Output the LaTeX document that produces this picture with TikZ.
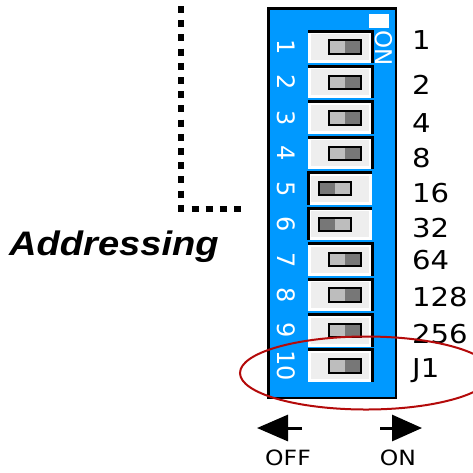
\documentclass[tikz,border=0pt]{standalone}
\usepackage{fontspec}
\usepackage{tikz}
\usetikzlibrary{arrows.meta,positioning}
\setmainfont{DejaVu Sans}
\newfontfamily\widefont[FakeStretch=1.12]{DejaVu Sans}
\newfontfamily\addrfont[FakeStretch=1.12]{Liberation Sans}
\definecolor{dipblue}{RGB}{0,153,255}
\definecolor{ringred}{RGB}{180,10,10}
\definecolor{knoblight}{RGB}{189,189,189}
\definecolor{knobdark}{RGB}{119,119,119}
\definecolor{boxgray}{RGB}{238,238,238}

\tikzset{
  swbox/.style={draw=white, line width=3pt, fill=boxgray, minimum width=61pt, minimum height=29pt, inner sep=0pt},
  knob/.style={fill=knoblight, minimum width=32pt, minimum height=13pt, inner sep=0pt},
  swnum/.style={text=white, rotate=-90, inner sep=0pt, font=\fontsize{24}{24}\selectfont},
  weight/.style={anchor=west, inner sep=0pt, font=\widefont\fontsize{26}{26}\selectfont},
  arrowlbl/.style={inner sep=0pt, font=\widefont\fontsize{21}{21}\selectfont},
}

\begin{document}
\begin{tikzpicture}[x=1pt,y=-1pt]
\useasboundingbox (0,0) rectangle (473,472);

% dip switch body
\node[draw, line width=2.5pt, fill=dipblue, minimum width=127.5pt, minimum height=389.5pt, inner sep=0pt] (dip) at (332,203) {};
\node[fill=white, minimum width=20pt, minimum height=14pt, inner sep=0pt] (onmark) at (379,21) {};
\node[swnum, font=\fontsize{23}{23}\selectfont] (ontxt) at (384,48) {ON};

% switches: number/weight/knob x/dark side/other side/label shift
\foreach \i/\val/\kx/\side/\other/\dy in {1/1/345/east/west/-7, 2/2/345/east/west/2, 3/4/345/east/west/5,
    4/8/345/east/west/5, 5/16/335/west/east/4, 6/32/335/west/east/4, 7/64/345/east/west/0,
    8/128/345/east/west/2, 9/256/345/east/west/4, 10/J1/345/east/west/5}{
  \pgfmathsetmacro\yy{47+35.44*(\i-1)}
  \node[swbox] (sw\i) at (340,\yy) {};
  \draw[line width=3pt] (sw\i.south \side) -- (sw\i.north \side) -- (sw\i.north \other);
  \node[knob] (kn\i) at (\kx,\yy) {};
  \fill[knobdark] (kn\i.north) rectangle (kn\i.south \side);
  \draw[line width=2pt] (kn\i.north west) rectangle (kn\i.south east);
  \node[swnum] (n\i) at (286,\yy) {\i};
  \node[weight] (w\i) at (412,{\yy+\dy}) {\val};
}

% leader to the address switches
\coordinate (leadtop) at (181,6);
\coordinate (leadcorner) at (181,208.5);
\coordinate (leadend) at (241,208.5);
\draw[line width=6pt, dash pattern=on 7pt off 7.2pt] (leadtop) -- (leadcorner) -- (leadend);
\node[anchor=base west, inner sep=0pt, font=\addrfont\bfseries\itshape\fontsize{34}{34}\selectfont] (addr) at (9,255) {Addressing};

% off / on arrows
\coordinate (offtail) at (302,428);
\coordinate (offtip) at (257,428);
\coordinate (ontail) at (380,428);
\coordinate (ontip) at (422,428);
\draw[line width=3pt, -{Triangle[length=31pt,width=26pt]}] (offtail) -- (offtip);
\draw[line width=3pt, -{Triangle[length=30pt,width=26pt]}] (ontail) -- (ontip);
\node[arrowlbl] (offlbl) at (288,458) {OFF};
\node[arrowlbl] (onlbl) at (398,458) {ON};

% jumper ring
\draw[ringred, line width=2pt] (366,373) ellipse (126 and 36.5);
\end{tikzpicture}
\end{document}
